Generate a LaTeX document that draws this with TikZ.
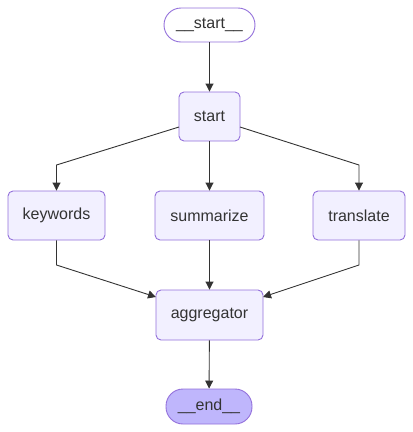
\documentclass[tikz,border=0pt]{standalone}
\usepackage{fontspec}
\setmainfont{Liberation Sans}
\usetikzlibrary{arrows.meta}
\definecolor{nodefill}{HTML}{F2F0FF}
\definecolor{nodeline}{HTML}{9370DB}
\definecolor{endfill}{HTML}{BFB6FC}
\definecolor{ink}{HTML}{333333}
\tikzset{
  box/.style={draw=nodeline, fill=nodefill, line width=0.9pt, rounded corners=5pt,
    text=ink, font=\fontsize{16}{19}\selectfont, inner sep=0pt, anchor=center},
  pill/.style={box, rounded corners=17pt},
  edge/.style={draw=ink, line width=0.9pt, -{Triangle[length=8pt,width=8pt]}},
}
\begin{document}
\begin{tikzpicture}[x=1pt,y=-1pt]
\useasboundingbox (0,0) rectangle (413,432);
\node[pill, fill=white, minimum width=91pt, minimum height=34pt] (s0) at (209.5,25) {\_\_start\_\_};
\node[box, minimum width=61pt, minimum height=49pt] (start) at (209.5,116.5) {start};
\node[box, minimum width=97pt, minimum height=49pt] (kw) at (56.5,215.5) {keywords};
\node[box, minimum width=109pt, minimum height=49pt] (sum) at (209.5,215.5) {summarize};
\node[box, minimum width=92pt, minimum height=49pt] (tr) at (359,215.5) {translate};
\node[box, minimum width=107pt, minimum height=50pt] (agg) at (209.5,315) {aggregator};
\node[pill, fill=endfill, minimum width=86pt, minimum height=35pt] (end) at (209,406.5) {\_\_end\_\_};
\coordinate (sl) at (179,127);
\coordinate (sr) at (240,127);
\coordinate (b1) at (56.5,165);
\coordinate (b2) at (359,165);
\coordinate (c1) at (56.5,265);
\coordinate (c2) at (359,265);
\coordinate (al) at (156,297);
\coordinate (ar) at (263,297);
\draw[edge] (s0) -- (start);
\draw[edge] (sl) -- (b1) -- (kw);
\draw[edge] (start) -- (sum);
\draw[edge] (sr) -- (b2) -- (tr);
\draw[edge] (kw) -- (c1) -- (al);
\draw[edge] (sum) -- (agg);
\draw[edge] (tr) -- (c2) -- (ar);
\draw[edge] (agg) -- (end);
\end{tikzpicture}
\end{document}
